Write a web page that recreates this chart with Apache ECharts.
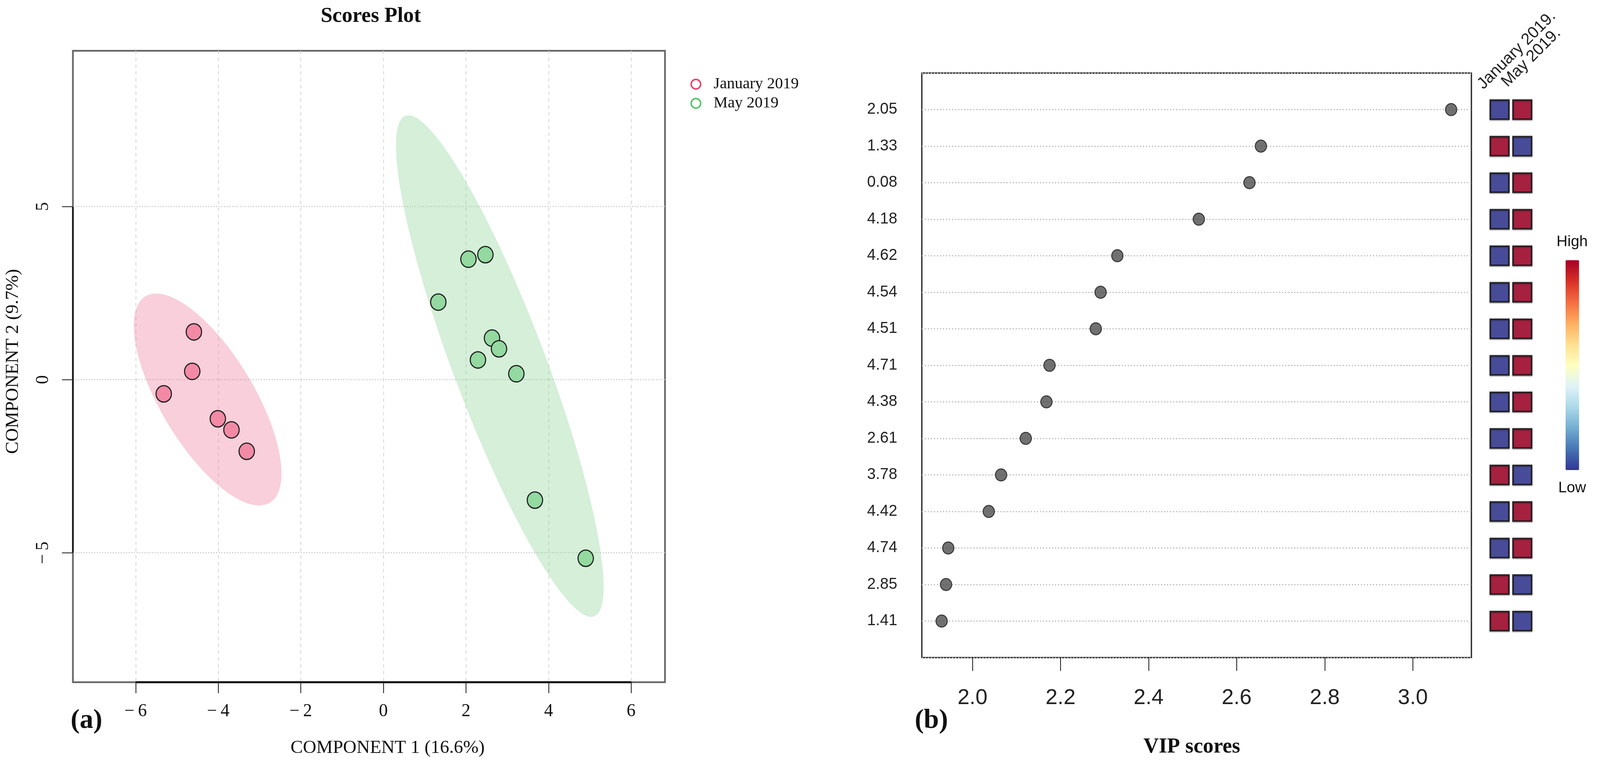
<!DOCTYPE html>
<html>
<head>
<meta charset="utf-8">
<script src="https://cdn.jsdelivr.net/npm/echarts@6/dist/echarts.min.js"></script>
<style>
html,body{margin:0;padding:0;background:#fff;overflow:hidden;}
#chart{position:absolute;left:0;top:0;}
</style>
</head>
<body>
<div id="chart"></div>
<script>
// ---------- Data ----------
const groupNames = ['January 2019', 'May 2019'];
const janPC1 = [-4.59, -4.63, -5.32, -4.01, -3.68, -3.31];
const janPC2 = [1.38, 0.24, -0.41, -1.13, -1.45, -2.07];
const mayPC1 = [2.06, 2.47, 1.33, 2.63, 2.80, 2.29, 3.22, 3.67, 4.90];
const mayPC2 = [3.48, 3.61, 2.24, 1.20, 0.89, 0.57, 0.17, -3.48, -5.16];
const pcaXTicks = [-6, -4, -2, 0, 2, 4, 6];
const pcaYTicks = [-5, 0, 5];

const features = ['2.05', '1.33', '0.08', '4.18', '4.62', '4.54', '4.51', '4.71', '4.38', '2.61', '3.78', '4.42', '4.74', '2.85', '1.41'];
const vipScores = [3.087, 2.655, 2.629, 2.514, 2.329, 2.291, 2.280, 2.175, 2.168, 2.121, 2.065, 2.037, 1.945, 1.940, 1.930];
const vipXTicks = [2.0, 2.2, 2.4, 2.6, 2.8, 3.0];
const heatColumns = ['January 2019.', 'May 2019.'];
const janLevel = [0, 1, 0, 0, 0, 0, 0, 0, 0, 0, 1, 0, 0, 1, 1];
const mayLevel = [1, 0, 1, 1, 1, 1, 1, 1, 1, 1, 0, 1, 1, 0, 0];
const colorScale = ['#313695', '#4575b4', '#74add1', '#abd9e9', '#e0f3f8', '#ffffbf', '#fee090', '#fdae61', '#f46d43', '#d73027', '#a50026'];

// ---------- helpers ----------
function confEllipse(xs, ys) {
  const n = xs.length;
  const mx = xs.reduce((a, b) => a + b, 0) / n;
  const my = ys.reduce((a, b) => a + b, 0) / n;
  let sxx = 0, syy = 0, sxy = 0;
  for (let i = 0; i < n; i++) {
    sxx += (xs[i] - mx) * (xs[i] - mx);
    syy += (ys[i] - my) * (ys[i] - my);
    sxy += (xs[i] - mx) * (ys[i] - my);
  }
  sxx /= (n - 1); syy /= (n - 1); sxy /= (n - 1);
  const a = Math.sqrt(sxx), b = sxy / a, c = Math.sqrt(syy - b * b);
  const r = Math.sqrt(5.991);
  const pts = [];
  for (let k = 0; k < 120; k++) {
    const t = 2 * Math.PI * k / 120;
    const u = Math.cos(t), v = Math.sin(t);
    pts.push([mx + r * a * u, my + r * (b * u + c * v)]);
  }
  return pts;
}
const ellipses = [confEllipse(janPC1, janPC2), confEllipse(mayPC1, mayPC2)];
const ellipseFill = ['rgba(235,118,149,0.35)', 'rgba(135,209,146,0.35)'];

const janPts = janPC1.map((x, i) => [x, janPC2[i]]);
const mayPts = mayPC1.map((x, i) => [x, mayPC2[i]]);
const vipPts = vipScores.map((v, i) => [v, i + 1]);
const heatPts = [];
features.forEach((f, i) => {
  heatPts.push([0, i + 1, janLevel[i]]);
  heatPts.push([1, i + 1, mayLevel[i]]);
});

// layout is designed on a 4367 x 1963 canvas and mapped to the real viewport
const W0 = 4367, H0 = 1963;
const vw = window.innerWidth || W0, vh = window.innerHeight || H0;
const sx = vw / W0, sy = vh / H0, sf = (sx + sy) / 2;
const X = v => v * sx, Y = v => v * sy, F = v => v * sf;
const el = document.getElementById('chart');
el.style.width = vw + 'px';
el.style.height = vh + 'px';

const SERIF = 'Liberation Serif, Times New Roman, serif';
const SANS = 'Liberation Sans, Arial, sans-serif';
const pX = [-7.52, 6.82], pY = [-8.74, 9.50];
const fmtMinus = v => (v < 0 ? '\u2212\u2009' + Math.abs(v) : String(v));
const ctext = (x, y, text, font, extra) => Object.assign({
  type: 'text', x: X(x), y: Y(y),
  style: {text: text, font: font, fill: '#111', textAlign: 'center', textVerticalAlign: 'middle', align: 'center', verticalAlign: 'middle'}
}, extra || {});

const chart = echarts.init(el, null, {renderer: 'canvas', width: vw, height: vh});
const option = {
  backgroundColor: '#ffffff',
  animation: false,
  grid: [
    {left: X(199), top: Y(130), width: X(1616), height: Y(1616), show: true, borderColor: '#666666', borderWidth: F(4.5), backgroundColor: 'transparent'},
    {left: X(2516), top: Y(187), width: X(1500), height: Y(1496), show: true, borderColor: '#2b2b2b', borderWidth: F(3.5), backgroundColor: 'transparent'},
    {left: X(4062), top: Y(187), width: X(124), height: Y(1496), show: false}
  ],
  xAxis: [
    {
      gridIndex: 0, type: 'value', min: pX[0], max: pX[1], splitNumber: 7,
      axisLine: {show: false, onZero: false},
      axisTick: {show: true, length: Y(28), lineStyle: {color: '#111', width: F(2)}, customValues: pcaXTicks},
      axisLabel: {show: true, margin: Y(52), fontFamily: SERIF, fontSize: F(47), color: '#111', formatter: fmtMinus, customValues: pcaXTicks},
      splitLine: {show: true, lineStyle: {color: '#d4d4d4', width: F(2), type: [F(9), F(9)]}}
    },
    {
      gridIndex: 1, type: 'value', min: 1.885, max: 3.133, splitNumber: 6,
      axisLine: {show: false, onZero: false},
      axisTick: {show: true, length: Y(34), lineStyle: {color: '#111', width: F(2)}, customValues: vipXTicks},
      axisLabel: {show: true, margin: Y(76), fontFamily: SANS, fontSize: F(57), color: '#222', formatter: v => v.toFixed(1), customValues: vipXTicks},
      splitLine: {show: false}
    },
    {
      gridIndex: 2, type: 'category', data: heatColumns, boundaryGap: true, show: false, axisLine: {onZero: false}
    }
  ],
  yAxis: [
    {
      gridIndex: 0, type: 'value', min: pY[0], max: pY[1], splitNumber: 4,
      axisLine: {show: false, onZero: false},
      axisTick: {show: true, length: X(30), lineStyle: {color: '#111', width: F(2)}, customValues: pcaYTicks},
      axisLabel: {show: true, rotate: 90, margin: X(56), fontFamily: SERIF, fontSize: F(47), color: '#111', formatter: fmtMinus, customValues: pcaYTicks},
      splitLine: {show: true, lineStyle: {color: '#cfcfcf', width: F(3), type: [F(3), F(4)]}}
    },
    {
      gridIndex: 1, type: 'value', min: 0, max: 16, interval: 1, inverse: true,
      axisLine: {show: false, onZero: false},
      axisTick: {show: false},
      axisLabel: {show: true, margin: X(67), fontFamily: SANS, fontSize: F(41), color: '#222',
        formatter: v => (features[v - 1] !== undefined ? features[v - 1] : '')},
      splitLine: {show: true, lineStyle: {color: '#b8b8b8', width: F(3), type: [F(3), F(5)]}}
    },
    {
      gridIndex: 2, type: 'value', min: 0, max: 16, interval: 1, inverse: true, show: false, splitLine: {show: false}, axisLine: {onZero: false}
    }
  ],
  legend: {
    orient: 'vertical', left: X(1879), top: Y(190), itemWidth: X(26), itemHeight: Y(26), itemGap: Y(8),
    textStyle: {fontFamily: SERIF, fontSize: F(42), color: '#111', lineHeight: F(42), padding: [0, 0, 0, X(30)]},
    selectedMode: false,
    data: [
      {name: groupNames[0], icon: 'circle', itemStyle: {color: '#ffffff', borderColor: '#E8466E', borderWidth: F(4)}},
      {name: groupNames[1], icon: 'circle', itemStyle: {color: '#ffffff', borderColor: '#5BC36B', borderWidth: F(4)}}
    ]
  },
  visualMap: {
    type: 'continuous', min: 0, max: 1, seriesIndex: 5, dimension: 2, orient: 'vertical',
    left: X(4273), top: Y(666), itemWidth: X(37), itemHeight: Y(537), calculable: false, padding: 0,
    showLabel: false, text: null,
    inRange: {color: colorScale}
  },
  graphic: [
    ctext(1012, 42, 'Scores Plot', 'bold ' + F(56) + 'px ' + SERIF),
    ctext(1058, 1915, 'COMPONENT 1 (16.6%)', F(49) + 'px ' + SERIF),
    ctext(36, 925, 'COMPONENT 2 (9.7%)', F(49) + 'px ' + SERIF, {rotation: Math.PI / 2}),
    ctext(236, 1845, '(a)', 'bold ' + F(72) + 'px ' + SERIF),
    ctext(2542, 1845, '(b)', 'bold ' + F(72) + 'px ' + SERIF),
    ctext(3253, 1912, 'VIP scores', 'bold ' + F(56) + 'px ' + SERIF),
    {type: 'text', x: X(4040), y: Y(222), rotation: Math.PI / 4, style: {text: heatColumns[0], font: F(43) + 'px ' + SANS, fill: '#222', textAlign: 'left', textVerticalAlign: 'middle', align: 'left', verticalAlign: 'middle'}},
    {type: 'text', x: X(4106), y: Y(216), rotation: Math.PI / 4, style: {text: heatColumns[1], font: F(43) + 'px ' + SANS, fill: '#222', textAlign: 'left', textVerticalAlign: 'middle', align: 'left', verticalAlign: 'middle'}},
    ctext(4291, 619, 'High', F(40) + 'px ' + SANS),
    ctext(4291, 1249, 'Low', F(40) + 'px ' + SANS)
  ],
  series: [
    {
      type: 'custom', name: 'ellipses', xAxisIndex: 0, yAxisIndex: 0, silent: true, z: 1,
      data: [[0, 0], [1, 0]],
      renderItem: function (params, api) {
        const pts = ellipses[params.dataIndex].map(p => api.coord(p));
        return {type: 'polygon', shape: {points: pts}, style: {fill: ellipseFill[params.dataIndex], stroke: null}};
      }
    },
    {
      type: 'scatter', name: groupNames[0], xAxisIndex: 0, yAxisIndex: 0, z: 3,
      symbol: 'circle', symbolSize: [X(42), Y(42)], data: janPts,
      itemStyle: {color: '#F28AA5', borderColor: '#1e1e1e', borderWidth: F(3), opacity: 1}
    },
    {
      type: 'scatter', name: groupNames[1], xAxisIndex: 0, yAxisIndex: 0, z: 3,
      symbol: 'circle', symbolSize: [X(42), Y(42)], data: mayPts,
      itemStyle: {color: '#93D9A0', borderColor: '#1e1e1e', borderWidth: F(3), opacity: 1}
    },
    {
      type: 'custom', name: 'axisSegments', xAxisIndex: 0, yAxisIndex: 0, silent: true, z: 4,
      data: [[0, 0]],
      renderItem: function (params, api) {
        const b0 = api.coord([pcaXTicks[0], pY[0]]);
        const b1 = api.coord([pcaXTicks[pcaXTicks.length - 1], pY[0]]);
        const l0 = api.coord([pX[0], pcaYTicks[0]]);
        const l1 = api.coord([pX[0], pcaYTicks[pcaYTicks.length - 1]]);
        return {
          type: 'group', children: [
            {type: 'line', shape: {x1: b0[0], y1: b0[1], x2: b1[0], y2: b1[1]}, style: {stroke: '#111', lineWidth: F(5)}},
            {type: 'line', shape: {x1: l0[0], y1: l0[1], x2: l1[0], y2: l1[1]}, style: {stroke: '#111', lineWidth: F(4)}}
          ]
        };
      }
    },
    {
      type: 'scatter', name: 'VIP', xAxisIndex: 1, yAxisIndex: 1, z: 3,
      symbol: 'circle', symbolSize: [X(31), Y(31)], data: vipPts,
      itemStyle: {color: '#4d4d4d', borderColor: '#151515', borderWidth: F(2.5)}
    },
    {
      type: 'scatter', name: 'heat', xAxisIndex: 2, yAxisIndex: 2, z: 3,
      symbol: 'rect', symbolSize: [X(51), Y(49)], data: heatPts,
      itemStyle: {borderColor: '#111', borderWidth: F(4), shadowColor: 'rgba(0,0,0,0.45)', shadowBlur: F(3), shadowOffsetY: F(2)}
    }
  ]
};
chart.setOption(option);
</script>
</body>
</html>
